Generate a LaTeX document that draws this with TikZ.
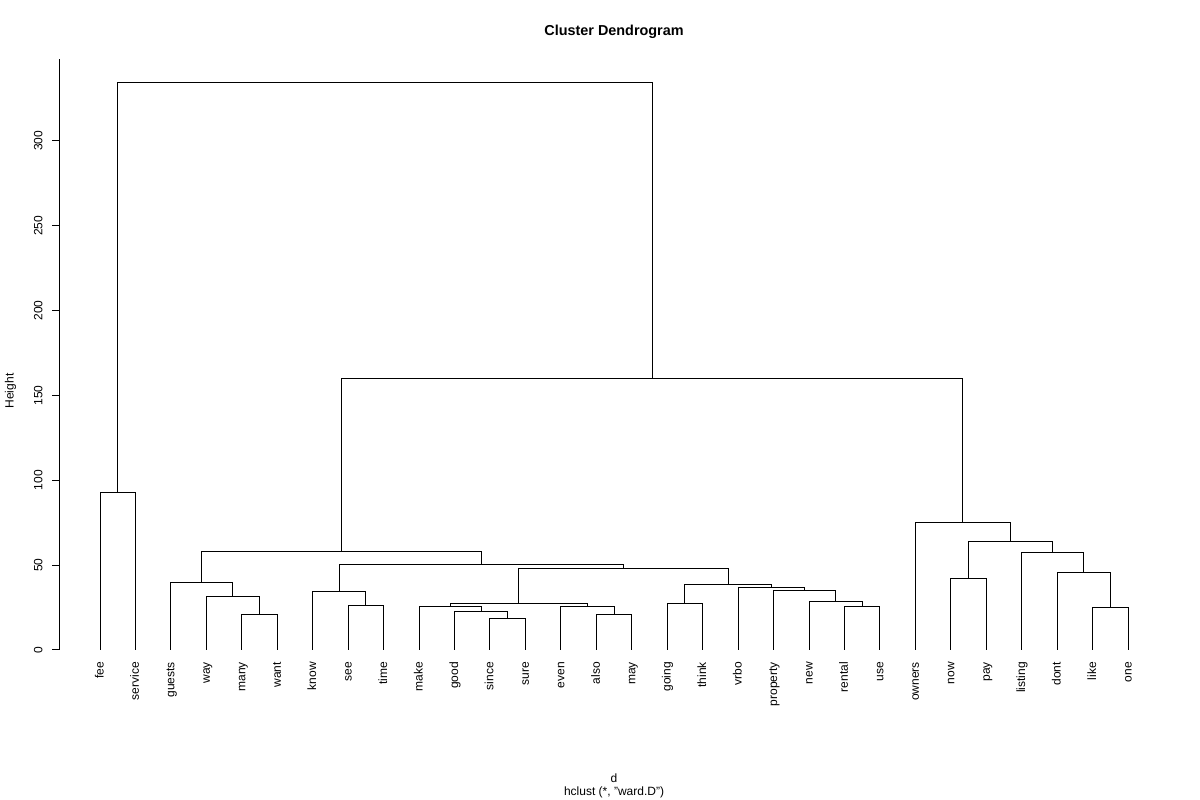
\documentclass[tikz,border=0pt]{standalone}
\usepackage{fontspec}
\setmainfont{Liberation Sans}
\begin{document}
\begin{tikzpicture}[x=35.45pt,y=1.6967pt,line width=1pt,
  leaf/.style={rotate=90,anchor=base east,inner sep=0pt,font=\fontsize{12}{14}\selectfont},
  tick/.style={rotate=90,anchor=base,inner sep=0pt,font=\fontsize{12}{14}\selectfont},
  label/.style={anchor=base,inner sep=0pt,font=\fontsize{12}{14}\selectfont}]
\useasboundingbox (-64.55pt,-150pt) rectangle (1135.45pt,650pt);
% leaves
\foreach \w [count=\i] in {fee,service,guests,way,many,want,know,see,time,make,good,since,sure,even,also,may,going,think,vrbo,property,new,rental,use,owners,now,pay,listing,dont,like,one}{
  \coordinate (\w) at (\i,0);
  \node[leaf] (\w-lab) at ([xshift=3.5pt,yshift=-11.7pt]\w) {\w};
}
% merges
\coordinate (fs) at (1.5,93.1);
\coordinate (mw) at (5.5,21.0);
\coordinate (wy) at (4.75,31.6);
\coordinate (gu) at (3.875,39.9);
\coordinate (st) at (8.5,26.3);
\coordinate (kn) at (7.75,34.6);
\coordinate (ss) at (12.5,18.7);
\coordinate (gd) at (11.75,22.8);
\coordinate (mk) at (10.875,25.8);
\coordinate (am) at (15.5,21.0);
\coordinate (ev) at (14.75,25.8);
\coordinate (me) at (12.8125,27.5);
\coordinate (gt) at (17.5,27.5);
\coordinate (ru) at (22.5,25.8);
\coordinate (nw) at (21.75,28.5);
\coordinate (pr) at (20.875,34.9);
\coordinate (vr) at (19.9375,36.7);
\coordinate (gv) at (18.7188,38.7);
\coordinate (mq) at (15.7656,48.2);
\coordinate (km) at (11.7578,50.5);
\coordinate (lf) at (7.8164,58.2);
\coordinate (np) at (25.5,42.3);
\coordinate (lo) at (29.5,25.2);
\coordinate (dl) at (28.75,45.4);
\coordinate (li) at (27.875,57.6);
\coordinate (nl) at (26.6875,64.1);
\coordinate (ow) at (25.3438,75.3);
\coordinate (lr) at (16.5801,160.3);
\coordinate (root) at (9.04,334.2);
\draw (fee) |- (fs) -| (service);
\draw (many) |- (mw) -| (want);
\draw (way) |- (wy) -| (mw);
\draw (guests) |- (gu) -| (wy);
\draw (see) |- (st) -| (time);
\draw (know) |- (kn) -| (st);
\draw (since) |- (ss) -| (sure);
\draw (good) |- (gd) -| (ss);
\draw (make) |- (mk) -| (gd);
\draw (also) |- (am) -| (may);
\draw (even) |- (ev) -| (am);
\draw (mk) |- (me) -| (ev);
\draw (going) |- (gt) -| (think);
\draw (rental) |- (ru) -| (use);
\draw (new) |- (nw) -| (ru);
\draw (property) |- (pr) -| (nw);
\draw (vrbo) |- (vr) -| (pr);
\draw (gt) |- (gv) -| (vr);
\draw (me) |- (mq) -| (gv);
\draw (kn) |- (km) -| (mq);
\draw (gu) |- (lf) -| (km);
\draw (now) |- (np) -| (pay);
\draw (like) |- (lo) -| (one);
\draw (dont) |- (dl) -| (lo);
\draw (listing) |- (li) -| (dl);
\draw (np) |- (nl) -| (li);
\draw (owners) |- (ow) -| (nl);
\draw (lf) |- (lr) -| (ow);
\draw (fs) |- (root) -| (lr);
% axis
\draw (-5pt,0pt) -- (-5pt,591pt);
\foreach \t in {0,50,...,300}{
  \draw ([xshift=-5pt]0,\t) -- ([xshift=-13pt]0,\t);
  \node[tick] (t\t) at ([xshift=-22.25pt]0,\t) {\t};
}
\node[tick] (ylab) at (-50.95pt,259pt) {Height};
\node[label,font=\fontsize{14.4}{17}\bfseries\selectfont] (title) at (15.5,361.9) {Cluster Dendrogram};
\node[label] (xlab) at (15.5,-77.8) {d};
\node[label] (sub) at (15.5,-85.5) {hclust (*, "ward.D")};
\end{tikzpicture}
\end{document}
